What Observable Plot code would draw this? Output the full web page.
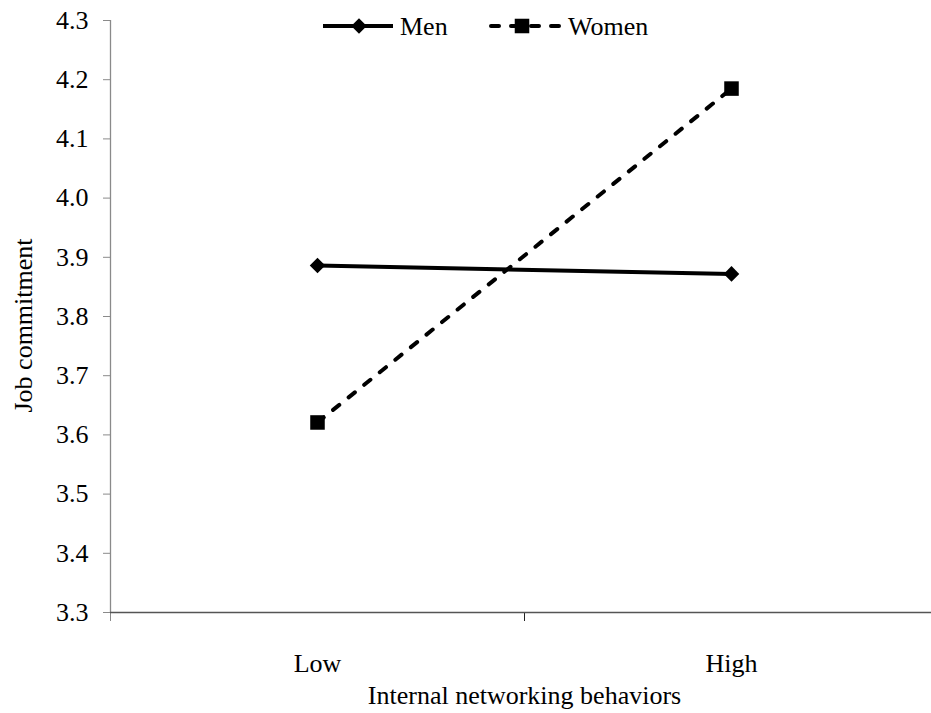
<!DOCTYPE html>
<html>
<head>
<meta charset="utf-8">
<script src="https://cdn.jsdelivr.net/npm/d3@7"></script>
<script src="https://cdn.jsdelivr.net/npm/@observablehq/plot@0.6"></script>
<style>
  html, body { margin: 0; padding: 0; background: #fff; }
  #wrap { position: relative; width: 931px; height: 713px; overflow: hidden; }
  #legend { position: absolute; left: 0; top: 0; }
</style>
</head>
<body>
<div id="wrap"><div id="chart"></div><svg id="legend" width="931" height="50"></svg></div>
<script>
const categories = ["Low", "High"];
const seriesNames = ["Men", "Women"];
const menValues = [3.886, 3.872];
const womenValues = [3.621, 4.185];
const yTicks = [3.3, 3.4, 3.5, 3.6, 3.7, 3.8, 3.9, 4.0, 4.1, 4.2, 4.3];
const xTitle = "Internal networking behaviors";
const yTitle = "Job commitment";

const rows = [];
categories.forEach((c, i) => {
  rows.push({series: "Men", cat: c, pos: i + 0.5, value: menValues[i]});
  rows.push({series: "Women", cat: c, pos: i + 0.5, value: womenValues[i]});
});
const men = rows.filter(d => d.series === "Men");
const women = rows.filter(d => d.series === "Women");
const font = "'Liberation Serif', 'Times New Roman', serif";
const FS = 26;
const SW = 4;

const chart = Plot.plot({
  width: 931,
  height: 713,
  marginLeft: 110,
  marginRight: -7,
  marginTop: 20,
  marginBottom: 101,
  style: {fontFamily: font, fontSize: FS + "px", color: "#000", background: "#fff"},
  x: {type: "linear", domain: [0, categories.length]},
  y: {domain: [3.3, 4.3]},
  marks: [
    Plot.axisY({ticks: yTicks, tickFormat: d3.format(".1f"), tickSize: 7, tickPadding: 15, stroke: "#8a8a8a", fill: "#000", fontSize: FS, label: null}),
    Plot.axisX({ticks: [0], tickFormat: () => "", tickSize: 9, stroke: "#8a8a8a", label: null}),
    Plot.axisX({ticks: d3.range(1, categories.length + 1), tickFormat: () => "", tickSize: 9, stroke: "#222", label: null}),
    Plot.axisX({ticks: categories.map((c, i) => i + 0.5), tickFormat: v => categories[Math.floor(v)], tickSize: 0, tickPadding: 41, fontSize: FS, label: null, fill: "#000"}),
    Plot.ruleX([0], {y1: 4.3, y2: 3.3, stroke: "#8a8a8a", strokeWidth: 1.3}),
    Plot.ruleY([3.3], {stroke: "#555", strokeWidth: 1.3}),
    Plot.text([yTitle], {frameAnchor: "left", textAnchor: "middle", lineAnchor: "middle", dx: -87, dy: 9, rotate: -90, fontSize: FS, fill: "#000"}),
    Plot.text([xTitle], {frameAnchor: "bottom", textAnchor: "middle", lineAnchor: "middle", dy: 83, fontSize: FS, fill: "#000"}),
    Plot.line(men, {x: "pos", y: "value", stroke: "#000", strokeWidth: SW}),
    Plot.line(women, {x: "pos", y: "value", stroke: "#000", strokeWidth: SW, strokeDasharray: "8,12", strokeLinecap: "round"}),
    Plot.dot(men, {x: "pos", y: "value", symbol: "diamond2", r: 7, fill: "#000"}),
    Plot.dot(women, {x: "pos", y: "value", symbol: "square", r: 8.2, fill: "#000"})
  ]
});
document.getElementById("chart").appendChild(chart);

// Legend
const lg = d3.select("#legend");
const items = [
  {name: seriesNames[0], x0: 323, x1: 393, mid: 359, tx: 400, dash: null, sym: d3.symbolDiamond2, r: 7},
  {name: seriesNames[1], x0: 491, x1: 560, mid: 522, tx: 568, dash: "8,12", sym: d3.symbolSquare, r: 8.2}
];
items.forEach(it => {
  lg.append("line").attr("x1", it.x0).attr("x2", it.x1).attr("y1", 26).attr("y2", 26)
    .attr("stroke", "#000").attr("stroke-width", SW)
    .attr("stroke-dasharray", it.dash).attr("stroke-linecap", it.dash ? "round" : "butt");
  lg.append("path").attr("d", d3.symbol(it.sym, Math.PI * it.r * it.r)())
    .attr("transform", `translate(${it.mid},26)`).attr("fill", "#000");
  lg.append("text").attr("x", it.tx).attr("y", 35).text(it.name)
    .attr("font-family", font).attr("font-size", FS).attr("fill", "#000");
});
</script>
</body>
</html>
